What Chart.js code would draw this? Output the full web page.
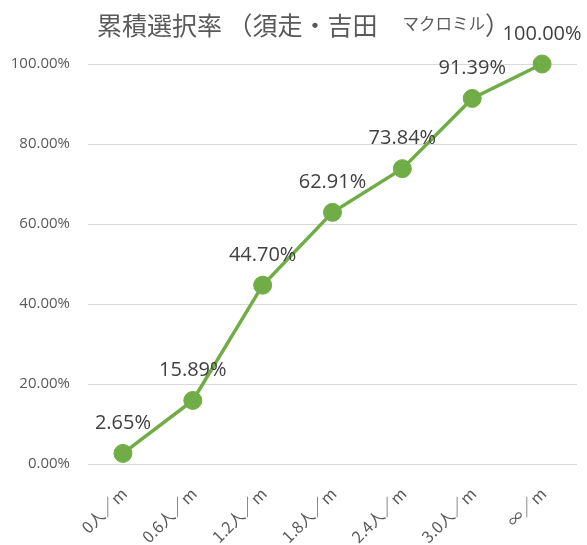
<!DOCTYPE html>
<html>
<head>
<meta charset="utf-8">
<script src="https://cdn.jsdelivr.net/npm/chart.js@4/dist/chart.umd.min.js"></script>
<style>
  html, body { margin: 0; padding: 0; background: #ffffff; }
  #wrap { width: 587px; height: 545px; position: relative; }
</style>
</head>
<body>
<div id="wrap"><canvas id="c"></canvas></div>
<script>
// Categories (density per metre) and cumulative selection ratio
const categories = ['0人／m', '0.6人／m', '1.2人／m', '1.8人／m', '2.4人／m', '3.0人／m', '∞／m'];
const cumulativeRate = [0.0265, 0.1589, 0.4470, 0.6291, 0.7384, 0.9139, 1.0000];
const yTicks = [0, 0.2, 0.4, 0.6, 0.8, 1.0];

// Title pieces: main text, smaller source name, closing bracket
const titleParts = [
  { text: '累積選択率 （須走・吉田　', size: 25, dy: 0 },
  { text: 'マクロミル', size: 16.5, dy: -1 },
  { text: '）', size: 25, dy: 0 }
];

const FONT = '"Noto Sans CJK JP", "Noto Sans", sans-serif';
const LABEL_FONT = '"Open Sans", "Noto Sans", sans-serif';

const pct = v => (v * 100).toFixed(2) + '%';

// Title drawn with mixed font sizes, centred on a common line
const titlePlugin = {
  id: 'mixedTitle',
  afterDraw(chart) {
    const ctx = chart.ctx;
    ctx.save();
    ctx.fillStyle = '#595959';
    ctx.textBaseline = 'middle';
    ctx.textAlign = 'left';
    let x = 97;
    const midY = 25;
    titleParts.forEach(p => {
      ctx.font = p.size + 'px ' + FONT;
      ctx.fillText(p.text, x, midY + p.dy);
      x += ctx.measureText(p.text).width;
    });
    ctx.restore();
  }
};

// Value labels above each point
const valueLabels = {
  id: 'valueLabels',
  afterDatasetsDraw(chart) {
    const ctx = chart.ctx;
    const meta = chart.getDatasetMeta(0);
    ctx.save();
    ctx.font = '20px ' + LABEL_FONT;
    ctx.fillStyle = '#404040';
    ctx.textAlign = 'center';
    ctx.textBaseline = 'middle';
    meta.data.forEach((pt, i) => {
      ctx.fillText(pct(chart.data.datasets[0].data[i]), pt.x, pt.y - 30);
    });
    ctx.restore();
  }
};

new Chart(document.getElementById('c'), {
  type: 'line',
  data: {
    labels: categories,
    datasets: [{
      data: cumulativeRate,
      borderColor: '#70AD47',
      backgroundColor: '#70AD47',
      borderWidth: 3.5,
      pointRadius: 9,
      pointHoverRadius: 9,
      pointBackgroundColor: '#70AD47',
      pointBorderColor: '#70AD47',
      pointBorderWidth: 1,
      tension: 0,
      clip: false
    }]
  },
  options: {
    responsive: true,
    maintainAspectRatio: false,
    animation: false,
    layout: { padding: { top: 64, right: 7, bottom: 0, left: 0 } },
    plugins: {
      legend: { display: false },
      title: { display: false },
      tooltip: { enabled: false }
    },
    scales: {
      x: {
        type: 'category',
        offset: true,
        grid: { display: false, drawTicks: false },
        border: { display: false },
        ticks: {
          color: '#595959',
          font: { size: 16, family: FONT },
          minRotation: 45,
          maxRotation: 45,
          padding: 20,
          labelOffset: 1
        },
        afterFit(scale) { scale.height = 81; }
      },
      y: {
        min: 0,
        max: 1,
        afterBuildTicks(scale) { scale.ticks = yTicks.map(v => ({ value: v })); },
        grid: { color: '#d9d9d9', lineWidth: 1, drawTicks: false },
        border: { display: false },
        ticks: {
          color: '#595959',
          font: { size: 15, family: LABEL_FONT },
          padding: 18,
          callback: v => pct(v)
        },
        afterFit(scale) { scale.width = 88; }
      }
    }
  },
  plugins: [titlePlugin, valueLabels]
});
</script>
</body>
</html>
